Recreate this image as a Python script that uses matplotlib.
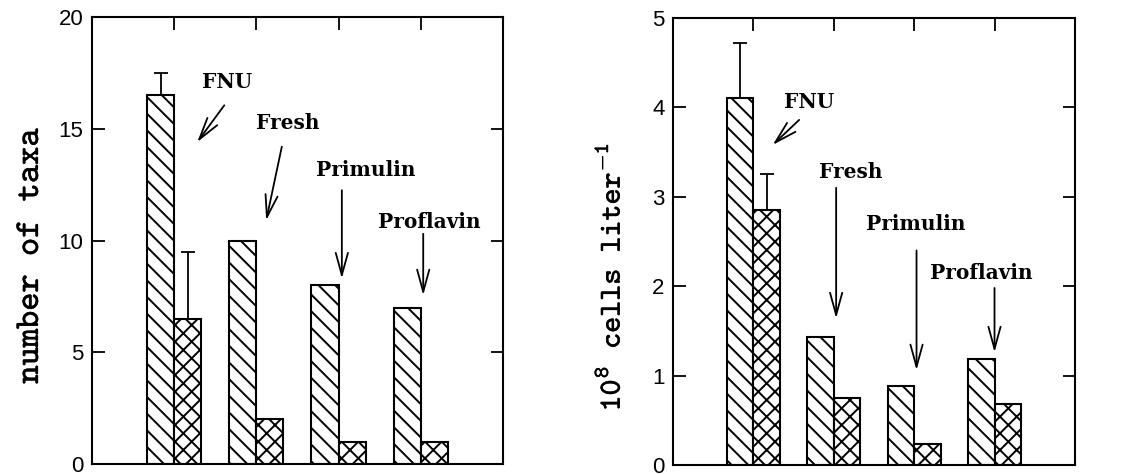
import numpy as np
import matplotlib.pyplot as plt
import matplotlib.patheffects as pe

# stain treatments, positions 1..4 on the x axis
stains = ['FNU', 'Fresh', 'Primulin', 'Proflavin']

# left panel: number of taxa
taxa_a = [16.5, 10, 8, 7]
taxa_b = [6.5, 2, 1, 1]
taxa_a_err = [1.0, 0, 0, 0]
taxa_b_err = [3.0, 0, 0, 0]

# right panel: 10^8 cells per liter
cells_a = [4.10, 1.43, 0.88, 1.19]
cells_b = [2.85, 0.75, 0.235, 0.68]
cells_a_err = [0.62, 0, 0, 0]
cells_b_err = [0.40, 0, 0, 0]

# label anchor (text) and arrow tail / head, in data units
taxa_text = [(1.65, 17.1), (2.38, 15.25), (3.33, 13.15), (4.11, 10.85)]
taxa_tail = [(1.61, 16.05), (2.31, 14.2), (3.04, 12.25), (4.03, 10.3)]
taxa_head = [(1.28, 14.4), (2.12, 10.9), (3.04, 8.3), (4.03, 7.55)]

cells_text = [(1.70, 4.06), (2.21, 3.28), (3.02, 2.70), (3.83, 2.15)]
cells_tail = [(1.57, 3.86), (2.03, 3.10), (3.03, 2.40), (4.00, 1.98)]
cells_head = [(1.24, 3.58), (2.03, 1.64), (3.03, 1.06), (4.00, 1.26)]

plt.rcParams['hatch.linewidth'] = 1.4
plt.rcParams['font.family'] = 'Liberation Sans'
plt.rcParams['mathtext.fontset'] = 'custom'
plt.rcParams['mathtext.rm'] = 'cmtt10'
plt.rcParams['mathtext.it'] = 'cmtt10'
plt.rcParams['mathtext.fallback'] = 'cm'

fig = plt.figure(figsize=(11.31, 4.74), dpi=100)
ax1 = fig.add_axes([0.0813, 0.0211, 0.3634, 0.943])
ax2 = fig.add_axes([0.595, 0.019, 0.3554, 0.943])

w = 0.33
x = np.arange(1, 5)


def draw(ax, a, b, aerr, berr, ymax, yticks, texts, tails, heads):
    ax.bar(x - w / 2, a, w, color='white', edgecolor='black', hatch='\\\\',
           linewidth=1.5, zorder=2)
    ax.bar(x + w / 2, b, w, color='white', edgecolor='black', hatch='xx',
           linewidth=1.5, zorder=2)
    # one-sided error bars only where given
    for xi, v, e in zip(x - w / 2, a, aerr):
        if e > 0:
            ax.errorbar(xi, v, yerr=[[0], [e]], color='black', capsize=5,
                        elinewidth=1.3, capthick=1.3, zorder=1)
    for xi, v, e in zip(x + w / 2, b, berr):
        if e > 0:
            ax.errorbar(xi, v, yerr=[[0], [e]], color='black', capsize=5,
                        elinewidth=1.3, capthick=1.3, zorder=1)
    for s, t, p0, p1 in zip(stains, texts, tails, heads):
        ax.text(t[0], t[1], s, ha='center', va='center', fontsize=14.5,
                fontweight='bold', family='DejaVu Serif')
        ax.annotate('', xy=p1, xytext=p0,
                    arrowprops=dict(arrowstyle='->,head_length=0.8,head_width=0.22',
                                    color='black', lw=1.3, shrinkA=0, shrinkB=0,
                                    mutation_scale=20))
    ax.set_xlim(0, 5)
    ax.set_ylim(0, ymax)
    ax.set_yticks(yticks)
    ax.set_xticks(x)
    ax.set_xticklabels([])
    ax.tick_params(axis='y', direction='in', length=9, width=1.3, right=True,
                   labelsize=16, pad=6)
    ax.tick_params(axis='x', direction='in', length=9, width=1.3, top=True,
                   bottom=False)
    for sp in ax.spines.values():
        sp.set_linewidth(1.5)


draw(ax1, taxa_a, taxa_b, taxa_a_err, taxa_b_err, 20, [0, 5, 10, 15, 20],
     taxa_text, taxa_tail, taxa_head)
draw(ax2, cells_a, cells_b, cells_a_err, cells_b_err, 5, [0, 1, 2, 3, 4, 5],
     cells_text, cells_tail, cells_head)

# typewriter labels, thickened slightly to look like the scanned original
thick = [pe.withStroke(linewidth=0.35, foreground='black')]
ax1.set_ylabel('number of taxa', fontsize=25, family='cmtt10',
               path_effects=thick)
ax1.yaxis.set_label_coords(-0.112, 0.465)
ax2.set_ylabel(r'10$^{8}$ cells liter$^{-1}$', fontsize=22, family='cmtt10',
               path_effects=thick)
ax2.yaxis.set_label_coords(-0.115, 0.42)

fig.savefig('out.png', dpi=100)
